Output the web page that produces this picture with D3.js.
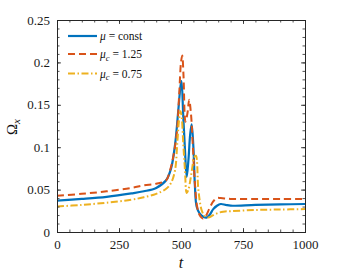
<!DOCTYPE html>
<html><head><meta charset="utf-8">
<script src="https://cdn.jsdelivr.net/npm/d3@7"></script>
<style>html,body{margin:0;padding:0;background:#fff}svg{display:block}
svg text{font-family:"Liberation Serif","DejaVu Serif","Times New Roman",Times,serif;}</style>
</head><body>
<svg id="c" width="337" height="274"></svg>
<script>
const xTicks = [0, 250, 500, 750, 1000];
const yTicks = [0, 0.05, 0.1, 0.15, 0.2, 0.25];
const yTickLabels = ["0", "0.05", "0.1", "0.15", "0.2", "0.25"];

const constT = [0,100,200,300,350,400,440,460,476,489,498,502,509,516,523,530,537,543,550,556,563,575,590,603,615,630,645,660,680,700,800,900,1000];
const constV = [0.037,0.039,0.0415,0.0455,0.048,0.052,0.061,0.075,0.103,0.143,0.172,0.178,0.137,0.097,0.065,0.085,0.115,0.127,0.1,0.055,0.03,0.022,0.018,0.017,0.02,0.027,0.031,0.033,0.032,0.031,0.032,0.0325,0.033];

const c125T = [0,100,200,300,350,400,440,456,469,483,493,500,505,510,518,526,533,540,548,556,565,575,588,600,615,630,645,660,700,800,900,1000];
const c125V = [0.0427,0.045,0.048,0.052,0.055,0.057,0.061,0.073,0.089,0.117,0.164,0.2,0.208,0.185,0.13,0.14,0.156,0.14,0.1,0.058,0.03,0.02,0.016,0.019,0.028,0.036,0.04,0.04,0.039,0.039,0.039,0.039];

const c075T = [0,100,200,300,350,400,440,460,476,485,492,498,503,509,516,523,530,537,545,553,560,570,583,595,610,625,645,670,700,800,900,1000];
const c075V = [0.030,0.032,0.0345,0.038,0.041,0.045,0.051,0.058,0.073,0.105,0.132,0.1425,0.135,0.105,0.073,0.046,0.05,0.06,0.075,0.088,0.09,0.05,0.026,0.019,0.017,0.019,0.022,0.024,0.0245,0.026,0.0265,0.027];

const m = {l:57, r:305, t:20, b:232};
const svg = d3.select("#c");
const x = d3.scaleLinear().domain([0,1000]).range([m.l, m.r]);
const y = d3.scaleLinear().domain([0,0.25]).range([m.b, m.t]);
const axisCol = "#262626";

svg.append("defs").append("clipPath").attr("id","clip").append("rect")
  .attr("x", m.l).attr("y", m.t).attr("width", m.r-m.l).attr("height", m.b-m.t);

const line = d3.line().x(d=>x(d[0])).y(d=>y(d[1])).curve(d3.curveCatmullRom.alpha(0.5));
const series = [
  {t:c125T, v:c125V, col:"#D95319", dash:"7,4", w:2},
  {t:c075T, v:c075V, col:"#EDB120", dash:"7,2.5,1.5,2.5", w:2},
  {t:constT, v:constV, col:"#0072BD", dash:null, w:2.2}
];
const order = [series[2], series[0], series[1]];
const pg = svg.append("g").attr("clip-path","url(#clip)");
order.forEach(s=>{
  pg.append("path").datum(s.t.map((t,i)=>[t,s.v[i]]))
    .attr("d", line).attr("fill","none").attr("stroke", s.col)
    .attr("stroke-width", s.w).attr("stroke-dasharray", s.dash)
    .attr("stroke-linejoin","round");
});

const minorX = d3.range(0,1001,50);
const minorY = d3.range(0,0.2501,0.01);
const xb = svg.append("g").attr("transform",`translate(0,${m.b})`)
  .call(d3.axisBottom(x).tickValues(minorX).tickSize(-2.5).tickFormat(""));
const xb2 = svg.append("g").attr("transform",`translate(0,${m.b})`)
  .call(d3.axisBottom(x).tickValues(xTicks).tickSize(-4).tickPadding(8).tickFormat(d3.format("d")));
const xt = svg.append("g").attr("transform",`translate(0,${m.t})`)
  .call(d3.axisTop(x).tickValues(minorX).tickSize(-2.5).tickFormat(""));
const xt2 = svg.append("g").attr("transform",`translate(0,${m.t})`)
  .call(d3.axisTop(x).tickValues(xTicks).tickSize(-4).tickFormat(""));
const yl = svg.append("g").attr("transform",`translate(${m.l},0)`)
  .call(d3.axisLeft(y).tickValues(minorY).tickSize(-2.5).tickFormat(""));
const yl2 = svg.append("g").attr("transform",`translate(${m.l},0)`)
  .call(d3.axisLeft(y).tickValues(yTicks).tickSize(-4).tickPadding(7).tickFormat((d,i)=>yTickLabels[i]));
const yr = svg.append("g").attr("transform",`translate(${m.r},0)`)
  .call(d3.axisRight(y).tickValues(minorY).tickSize(-2.5).tickFormat(""));
const yr2 = svg.append("g").attr("transform",`translate(${m.r},0)`)
  .call(d3.axisRight(y).tickValues(yTicks).tickSize(-4).tickFormat(""));
[xb,xb2,xt,xt2,yl,yl2,yr,yr2].forEach(a=>{
  a.attr("font-family", null).attr("font-size", 13);
  a.selectAll("path").attr("stroke", axisCol).attr("stroke-width",1);
  a.selectAll("line").attr("stroke", axisCol).attr("stroke-width",0.8);
  a.selectAll("text").attr("fill","#1a1a1a");
});

svg.append("text").attr("x", (m.l+m.r)/2).attr("y", 268).attr("text-anchor","middle")
  .attr("font-size",16).attr("font-style","italic").attr("fill","#111").text("t");
const yt = svg.append("text").attr("transform","translate(17,127) rotate(-90)").attr("text-anchor","middle")
  .attr("font-size",15).attr("fill","#111");
yt.append("tspan").text("Ω");
yt.append("tspan").attr("dy",3).attr("font-size",11).attr("font-style","italic").text("x");

const legItems = [
  {s:series[2], sub:null, rest:" = const"},
  {s:series[0], sub:"c", rest:" = 1.25"},
  {s:series[1], sub:"c", rest:" = 0.75"}
];
const legY = [36, 54, 73.5];
legItems.forEach((it,i)=>{
  svg.append("line").attr("x1",68).attr("x2",97).attr("y1",legY[i]).attr("y2",legY[i])
    .attr("stroke", it.s.col).attr("stroke-width", it.s.w).attr("stroke-dasharray", it.s.dash);
  const t = svg.append("text").attr("x",100).attr("y",legY[i]+4)
    .attr("font-size",11.5).attr("fill","#111");
  t.append("tspan").attr("font-style","italic").text("μ");
  if(it.sub){ t.append("tspan").attr("dy",2.5).attr("font-size",8.5).attr("font-style","italic").text(it.sub);
    t.append("tspan").attr("dy",-2.5).text(it.rest); }
  else t.append("tspan").text(it.rest);
});
</script>
</body></html>
